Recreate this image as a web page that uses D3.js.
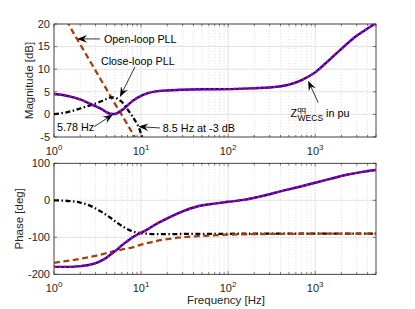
<html>
<head>
<script src="https://d3js.org/d3.v7.min.js"></script>
<style>
  body { margin: 0; background: #fff; }
  svg { font-family: "Liberation Sans", Arial, sans-serif; }
  .tick-label { font-size: 11px; fill: #262626; }
  .axis-label { font-size: 11.5px; fill: #262626; }
  .note { font-size: 10.8px; fill: #000; }
</style>
</head>
<body>
<svg width="415" height="309"></svg>
<script>
// ---- data ----
const xTicks = [1, 10, 100, 1000];
const magTicks = [-5, 0, 5, 10, 15, 20];
const phaseTicks = [-200, -100, 0, 100];

// Z_WECS^qq (blue with red dots)
const freqZmag = [1,1.5,2,2.5,3,3.5,4,4.5,5,5.5,6,7,8,10,12,15,20,30,50,100,200,300,500,700,1000,1500,2000,3000,4000,5000];
const magZ     = [4.5,4.0,3.3,2.5,1.8,1.2,0.5,0.1,0.1,0.45,0.9,2.0,3.0,4.1,4.7,5.1,5.3,5.45,5.55,5.6,5.8,5.95,6.6,7.6,9.3,12.3,14.5,17.4,19.0,20.2];
const freqZph  = [1,1.5,2,2.5,3,3.5,4,4.5,5,5.5,6,7,8,9,10,12,15,20,30,45,70,100,150,230,430,700,1000,1500,2300,3500,5000];
const phaseZ   = [-180,-180,-178,-175,-170,-163,-155,-146,-138,-130,-122,-110,-100,-93,-88,-78,-64,-49,-30,-16,-9,-4,1,10,26,38,47.5,58,69,77,82];

// closed-loop PLL (black dash-dot)
const freqCLmag = [1,1.5,2,2.5,3,3.5,4,4.5,5,5.5,6,6.5,7,7.5,8,8.5,9,9.5,10,10.5,11];
const magCL     = [0.05,0.6,1.3,1.9,2.4,2.9,3.4,3.75,3.75,3.3,2.8,2.0,1.1,0.3,-0.5,-1.3,-2.1,-3.0,-4.3,-5.3,-6.3];
const freqCLph  = [1,1.5,2,2.5,3,3.5,4,4.5,5,5.5,6,7,8,9,10,12,15,20,30,50,100,300,1000,5000];
const phaseCL   = [0,-2,-6,-13,-22,-31,-40,-48,-56,-63,-69,-78,-84,-87,-88.5,-90.5,-91.5,-91.5,-91,-90.7,-90.5,-90.3,-90.1,-90];

// open-loop PLL (brown dashed)
const freqOLmag = [1,1.2,1.4,1.7,2,2.5,3,3.5,4,5,6,7,8,9];
const magOL     = [26.5,23.4,20.8,17.8,15.5,12.3,9.7,7.5,5.6,2.4,-0.1,-2.3,-4.2,-5.9];
const freqOLph  = [1,2,3,4,5,6,7,8,10,15,20,30,45,100,200,500,1000,5000];
const phaseOL   = [-169,-158,-150,-143,-137,-133,-130,-127,-120,-110,-105,-100,-97,-93,-91.5,-90.6,-90.3,-90.1];

// ---- layout ----
const svg = d3.select("svg");
const left = 54, right = 376;
const x = d3.scaleLog().domain([1, 5000]).range([left, right]);
const yMag = d3.scaleLinear().domain([-5, 20]).range([137, 24]);
const yPh = d3.scaleLinear().domain([-200, 100]).range([274.3, 163.3]);

const minorTicks = [];
[1, 10, 100, 1000].forEach(p => {
    for (let k = 2; k <= 9; k++) if (p * k <= 5000) minorTicks.push(p * k);
});

function panel(y, yTicks, id) {
    const g = svg.append("g");
    const [y0, y1] = [y.range()[0], y.range()[1]];

    g.append("clipPath").attr("id", id)
     .append("rect").attr("x", left).attr("y", y1).attr("width", right - left).attr("height", y0 - y1);

    // grid
    g.selectAll(".gminor").data(minorTicks).enter().append("line")
     .attr("x1", d => x(d)).attr("x2", d => x(d)).attr("y1", y1).attr("y2", y0)
     .attr("stroke", "#d4d4d4").attr("stroke-width", 0.8).attr("stroke-dasharray", "1,2");
    g.selectAll(".gmajor").data(xTicks).enter().append("line")
     .attr("x1", d => x(d)).attr("x2", d => x(d)).attr("y1", y1).attr("y2", y0)
     .attr("stroke", "#e3e3e3").attr("stroke-width", 1);
    g.selectAll(".gy").data(yTicks).enter().append("line")
     .attr("x1", left).attr("x2", right).attr("y1", d => y(d)).attr("y2", d => y(d))
     .attr("stroke", "#e3e3e3").attr("stroke-width", 1);

    // box
    g.append("rect").attr("x", left).attr("y", y1).attr("width", right - left).attr("height", y0 - y1)
     .attr("fill", "none").attr("stroke", "#262626").attr("stroke-width", 0.8);

    // inward ticks
    const tk = 3.2;
    const allX = xTicks.concat(minorTicks);
    g.selectAll(".tb").data(allX).enter().append("line")
     .attr("x1", d => x(d)).attr("x2", d => x(d)).attr("y1", y0).attr("y2", d => y0 - (xTicks.includes(d) ? tk : tk * 0.7))
     .attr("stroke", "#262626").attr("stroke-width", 0.6);
    g.selectAll(".tt").data(allX).enter().append("line")
     .attr("x1", d => x(d)).attr("x2", d => x(d)).attr("y1", y1).attr("y2", d => y1 + (xTicks.includes(d) ? tk : tk * 0.7))
     .attr("stroke", "#262626").attr("stroke-width", 0.6);
    g.selectAll(".tl").data(yTicks).enter().append("line")
     .attr("x1", left).attr("x2", left + tk).attr("y1", d => y(d)).attr("y2", d => y(d))
     .attr("stroke", "#262626").attr("stroke-width", 0.6);
    g.selectAll(".tr").data(yTicks).enter().append("line")
     .attr("x1", right).attr("x2", right - tk).attr("y1", d => y(d)).attr("y2", d => y(d))
     .attr("stroke", "#262626").attr("stroke-width", 0.6);

    // y tick labels
    g.selectAll(".yl").data(yTicks).enter().append("text")
     .attr("class", "tick-label").attr("x", left - 4).attr("y", d => y(d)).attr("dy", "0.35em")
     .attr("text-anchor", "end").text(d => d);

    // x tick labels 10^n
    const xl = g.selectAll(".xl").data(xTicks).enter().append("text")
     .attr("class", "tick-label").attr("x", d => x(d)).attr("y", y0 + 17.5).attr("text-anchor", "middle");
    xl.append("tspan").text("10");
    xl.append("tspan").attr("dy", -4.5).attr("font-size", "8px").text(d => Math.round(Math.log10(d)));
    return g;
}

const gMag = panel(yMag, magTicks, "clipMag");
const gPh = panel(yPh, phaseTicks, "clipPh");

function series(g, clip, y, fx, fy, style) {
    const pts = fx.map((f, i) => [f, fy[i]]);
    const line = d3.line().x(d => x(d[0])).y(d => y(d[1])).curve(d3.curveMonotoneX);
    const p = g.append("path").datum(pts).attr("d", line)
      .attr("clip-path", `url(#${clip})`).attr("fill", "none");
    Object.entries(style).forEach(([k, v]) => p.attr(k, v));
    return p;
}

const styleOL = { stroke: "#a3410f", "stroke-width": 2.3, "stroke-dasharray": "6,3.5" };
const styleCL = { stroke: "#000", "stroke-width": 2.3, "stroke-dasharray": "5,2.5,1.5,2.5" };
const styleZ  = { stroke: "#0000ff", "stroke-width": 2.4 };
const styleZr = { stroke: "#ff0000", "stroke-width": 2.2, "stroke-dasharray": "2.2,2.8" };

series(gMag, "clipMag", yMag, freqOLmag, magOL, styleOL);
series(gMag, "clipMag", yMag, freqCLmag, magCL, styleCL);
series(gMag, "clipMag", yMag, freqZmag, magZ, styleZ);
series(gMag, "clipMag", yMag, freqZmag, magZ, styleZr);

series(gPh, "clipPh", yPh, freqCLph, phaseCL, styleCL);
series(gPh, "clipPh", yPh, freqOLph, phaseOL, styleOL);
series(gPh, "clipPh", yPh, freqZph, phaseZ, styleZ);
series(gPh, "clipPh", yPh, freqZph, phaseZ, styleZr);

// axis labels
svg.append("text").attr("class", "axis-label").attr("text-anchor", "middle")
   .attr("transform", `translate(33,${(yMag(-5) + yMag(20)) / 2}) rotate(-90)`).text("Magnitude [dB]");
svg.append("text").attr("class", "axis-label").attr("text-anchor", "middle")
   .attr("transform", `translate(23,${(yPh(-200) + yPh(100)) / 2}) rotate(-90)`).text("Phase [deg]");
svg.append("text").attr("class", "axis-label").attr("text-anchor", "middle")
   .attr("x", 226).attr("y", 304).text("Frequency [Hz]");

// annotations (in data coordinates of the magnitude plot)
function arrow(tail, head) {
    const [tx, ty] = [x(tail[0]), yMag(tail[1])];
    const [hx, hy] = [x(head[0]), yMag(head[1])];
    const a = Math.atan2(hy - ty, hx - tx);
    const L = 10, W = 3.8;
    svg.append("line").attr("x1", tx).attr("y1", ty)
       .attr("x2", hx - Math.cos(a) * L * 0.6).attr("y2", hy - Math.sin(a) * L * 0.6)
       .attr("stroke", "#000").attr("stroke-width", 0.8);
    const pts = [[0, 0], [-L, -W], [-L * 0.65, 0], [-L, W]].map(([u, v]) =>
        [hx + u * Math.cos(a) - v * Math.sin(a), hy + u * Math.sin(a) + v * Math.cos(a)]);
    svg.append("path").attr("d", "M" + pts.join("L") + "Z").attr("fill", "#000");
}
function note(f, db, txt, anchor) {
    return svg.append("text").attr("class", "note").attr("x", x(f)).attr("y", yMag(db))
       .attr("text-anchor", anchor || "start").text(txt);
}

arrow([3.37, 16.7], [1.84, 16.7]);
note(3.75, 15.9, "Open-loop PLL");

arrow([8.5, 10.5], [5.72, 3.85]);
note(3.46, 11.0, "Close-loop PLL");

arrow([2.9, -2.7], [4.76, 0.0]);
note(1.08, -3.6, "5.78 Hz");

arrow([16.5, -3.0], [9.3, -2.7]);
note(17.8, -3.8, "8.5 Hz at -3 dB");

arrow([1085, 2.6], [830, 7.46]);
const z = note(522, -0.65, "Z");
z.append("tspan").attr("font-size", "8px").attr("dy", -5).text("qq");
z.append("tspan").attr("font-size", "8.5px").attr("dx", -8.5).attr("dy", 9).text("WECS");
z.append("tspan").attr("dy", -4).text(" in pu");
</script>
</body>
</html>
